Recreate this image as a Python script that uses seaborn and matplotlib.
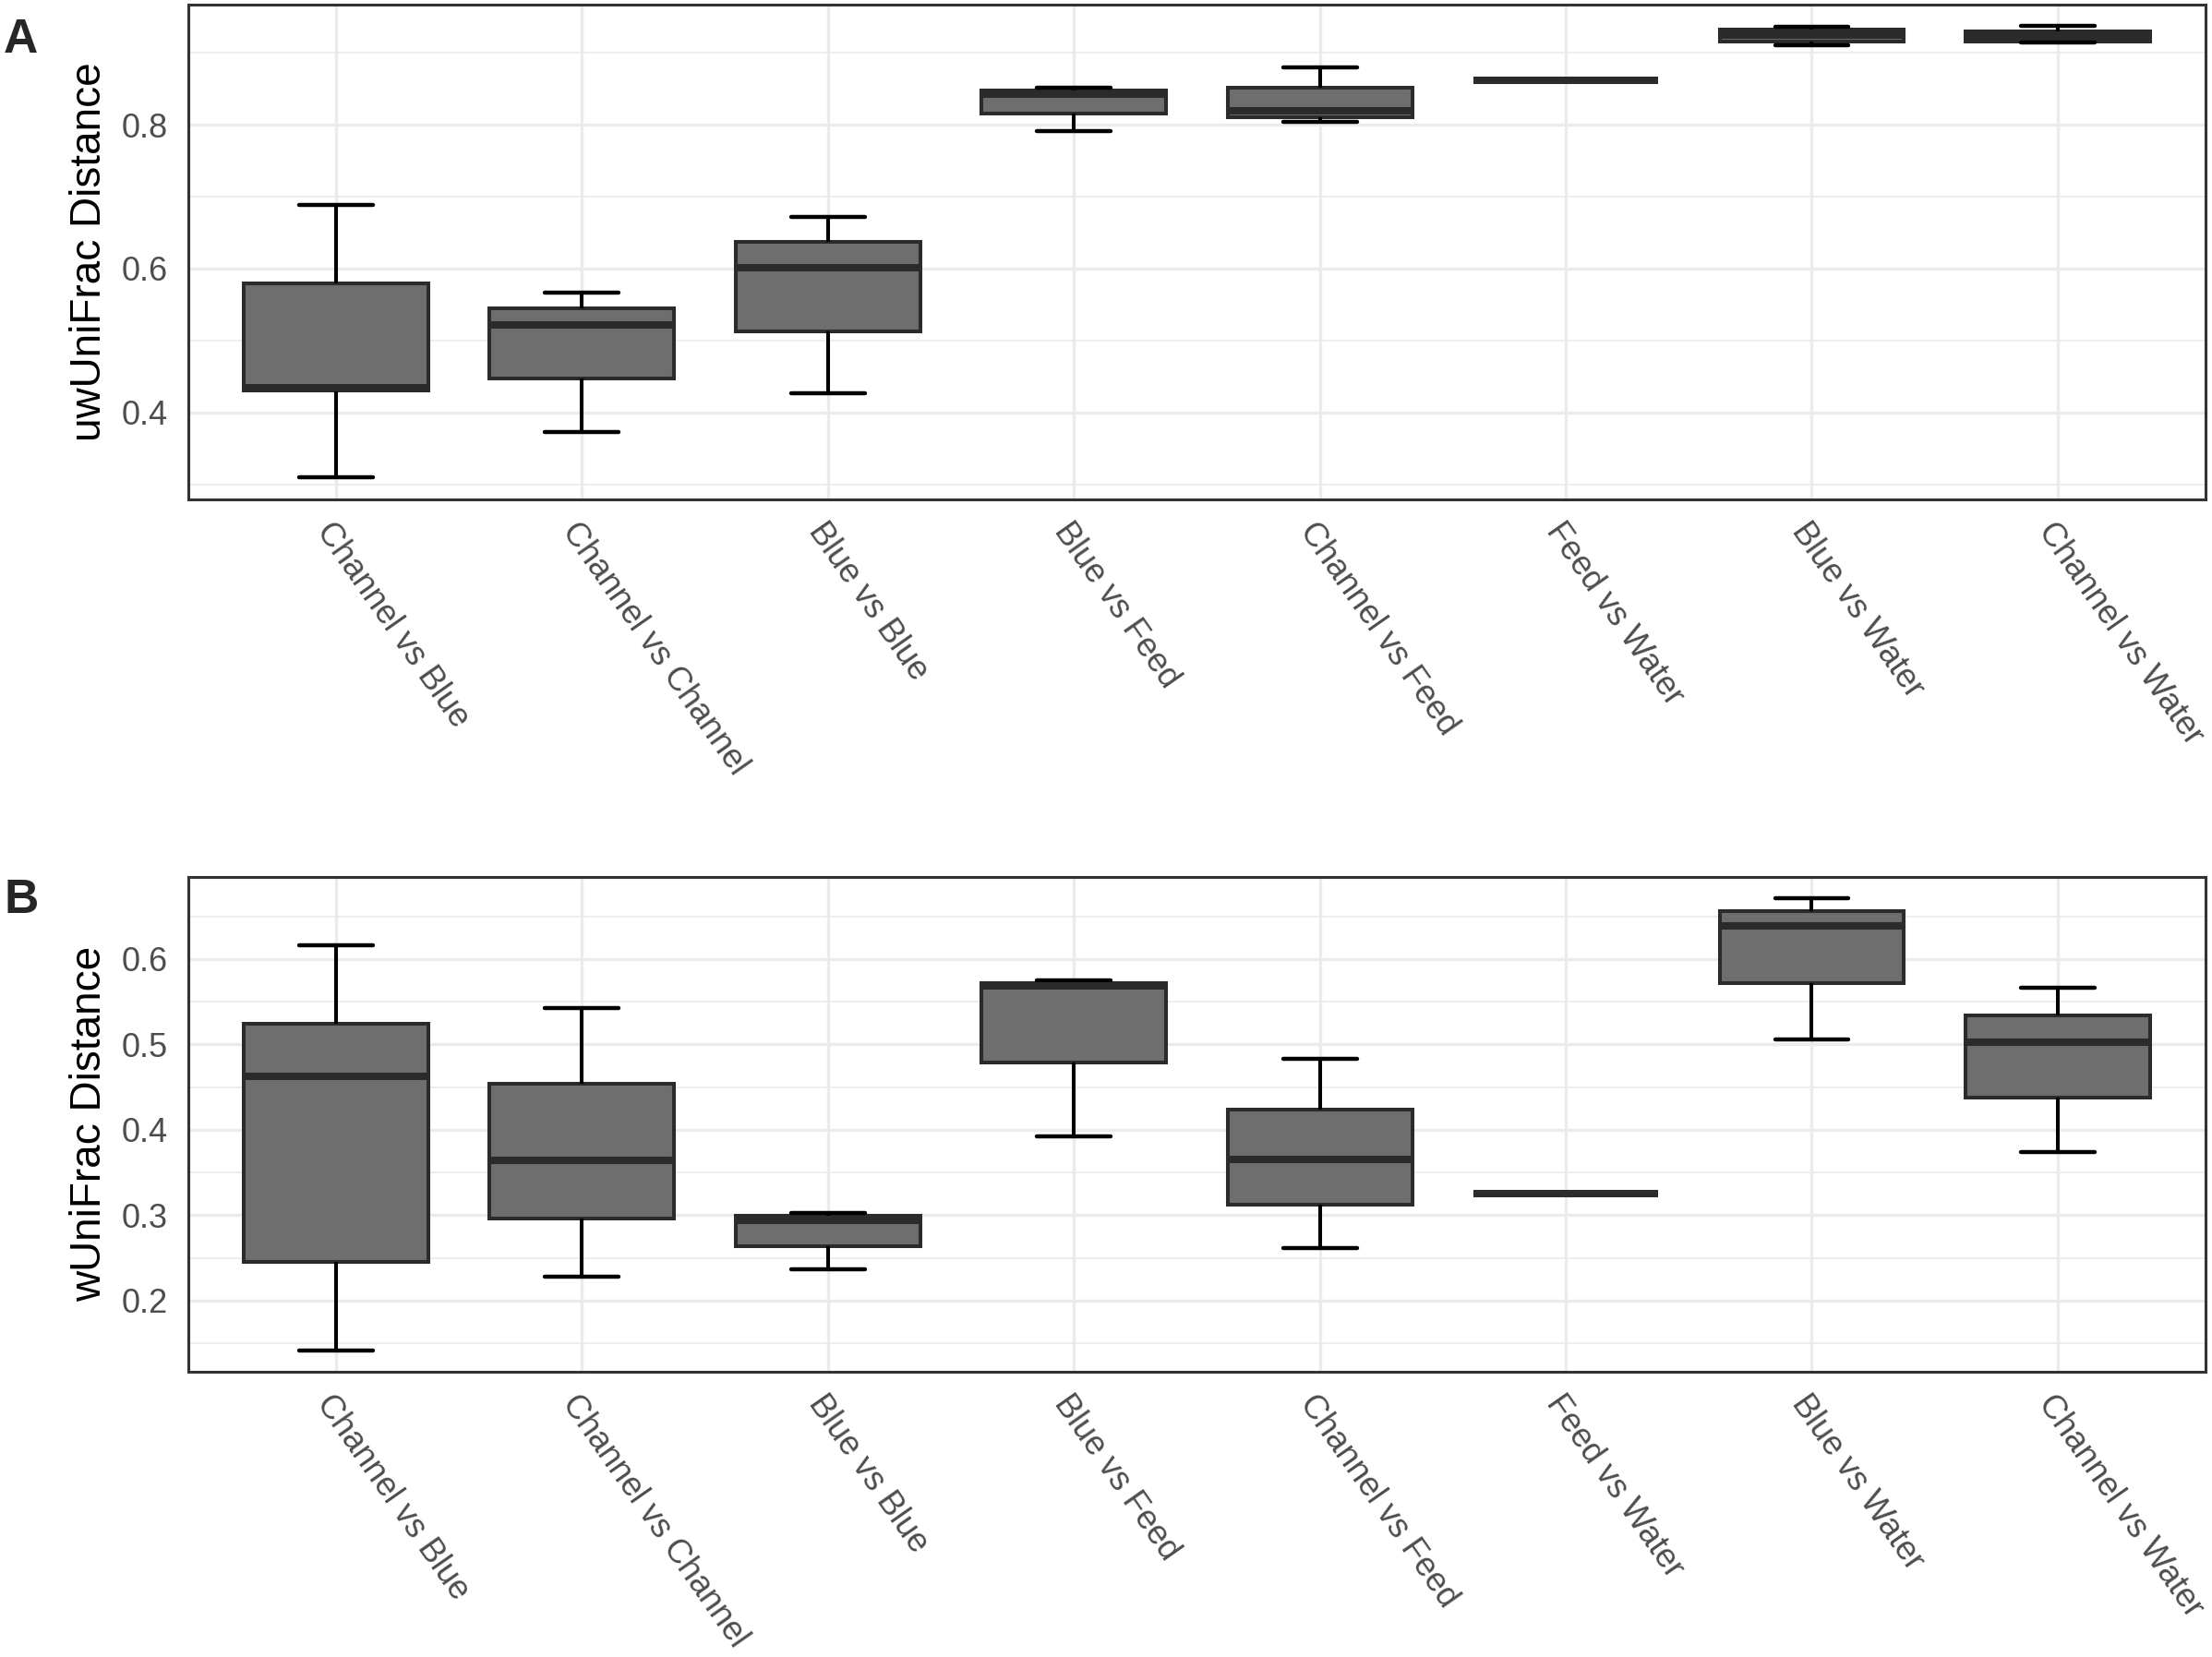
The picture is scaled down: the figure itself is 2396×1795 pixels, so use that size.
import numpy as np
import pandas as pd
import matplotlib
matplotlib.use("Agg")
import matplotlib.pyplot as plt
import seaborn as sns

# categories on the x axis (same for both panels)
pairs = ["Channel vs Blue", "Channel vs Channel", "Blue vs Blue", "Blue vs Feed",
         "Channel vs Feed", "Feed vs Water", "Blue vs Water", "Channel vs Water"]

# panel A: unweighted UniFrac, five-number summaries
uw_min = [0.310, 0.373, 0.426, 0.791, 0.804, 0.862, 0.910, 0.914]
uw_q1 = [0.430, 0.447, 0.513, 0.815, 0.811, 0.862, 0.916, 0.916]
uw_med = [0.434, 0.522, 0.601, 0.842, 0.819, 0.862, 0.925, 0.923]
uw_q3 = [0.580, 0.545, 0.637, 0.848, 0.851, 0.862, 0.932, 0.930]
uw_max = [0.689, 0.567, 0.672, 0.851, 0.880, 0.862, 0.936, 0.938]

# panel B: weighted UniFrac
w_min = [0.142, 0.228, 0.237, 0.392, 0.261, 0.325, 0.506, 0.374]
w_q1 = [0.245, 0.296, 0.264, 0.479, 0.312, 0.325, 0.572, 0.438]
w_med = [0.462, 0.364, 0.294, 0.568, 0.365, 0.325, 0.639, 0.502]
w_q3 = [0.524, 0.454, 0.299, 0.572, 0.424, 0.325, 0.656, 0.534]
w_max = [0.616, 0.542, 0.303, 0.575, 0.483, 0.325, 0.671, 0.566]


# 五个数 -> 长表（5个点的线性分位数正好等于 q1/med/q3）
def long_table(mins, q1s, meds, q3s, maxs):
    rows = []
    for i, p in enumerate(pairs):
        for v in (mins[i], q1s[i], meds[i], q3s[i], maxs[i]):
            rows.append({"pair": p, "dist": v})
    return pd.DataFrame(rows)


df_a = long_table(uw_min, uw_q1, uw_med, uw_q3, uw_max)
df_b = long_table(w_min, w_q1, w_med, w_q3, w_max)

sns.set_style("white")
plt.rcParams["font.family"] = ["Liberation Sans", "DejaVu Sans"]

fig = plt.figure(figsize=(11.98, 8.975), dpi=200)
ax_a = fig.add_axes([0.0851, 0.6986, 0.9119, 0.2986])
ax_b = fig.add_axes([0.0851, 0.1724, 0.9119, 0.2986])

edge = "#2b2b2b"
fill = "#6e6e6e"


def draw_panel(ax, df, ylabel, ylim, major, minor):
    sns.boxplot(data=df, x="pair", y="dist", order=pairs, ax=ax,
                color=fill, saturation=1, width=0.75, linewidth=1.45,
                linecolor=edge, whis=(0, 100), showfliers=False,
                medianprops={"color": edge, "linewidth": 2.9},
                whiskerprops={"color": "black", "linewidth": 1.45},
                capprops={"color": "black", "linewidth": 1.6},
                capwidths=0.3, zorder=3)
    ax.set_xlim(-0.6, len(pairs) - 0.4)
    ax.set_ylim(*ylim)
    ax.set_yticks(major)
    ax.set_yticklabels([f"{v:.1f}" for v in major])
    ax.set_yticks(minor, minor=True)
    ax.set_xticks(range(len(pairs)))
    ax.set_xticklabels(pairs, rotation=-55, ha="left", va="top",
                       rotation_mode="anchor")
    ax.set_axisbelow(True)
    ax.grid(True, which="major", color="#ebebeb", linewidth=1.2)
    ax.grid(True, which="minor", axis="y", color="#ebebeb", linewidth=0.6)
    ax.tick_params(axis="both", which="major", length=4.3, width=1.2,
                   color="#333333", labelsize=13, labelcolor="#4d4d4d", pad=3.6)
    ax.tick_params(axis="y", which="minor", length=0)
    ax.tick_params(axis="x", pad=2.4)
    for s in ax.spines.values():
        s.set_visible(True)
        s.set_color("#333333")
        s.set_linewidth(1.1)
    ax.set_xlabel("")
    ax.set_ylabel(ylabel, fontsize=16.5, color="black")
    ax.yaxis.set_label_coords(-0.039, 0.5)


draw_panel(ax_a, df_a, "uwUniFrac Distance", (0.279, 0.967),
           [0.4, 0.6, 0.8], [0.3, 0.5, 0.7, 0.9])
draw_panel(ax_b, df_b, "wUniFrac Distance", (0.1171, 0.6965),
           [0.2, 0.3, 0.4, 0.5, 0.6], [0.15, 0.25, 0.35, 0.45, 0.55, 0.65])

fig.text(0.0017, 0.9682, "A", fontsize=18.6, fontweight="bold", ha="left", va="baseline")
fig.text(0.0017, 0.4490, "B", fontsize=18.6, fontweight="bold", ha="left", va="baseline")

fig.savefig("out.png", dpi=200)
